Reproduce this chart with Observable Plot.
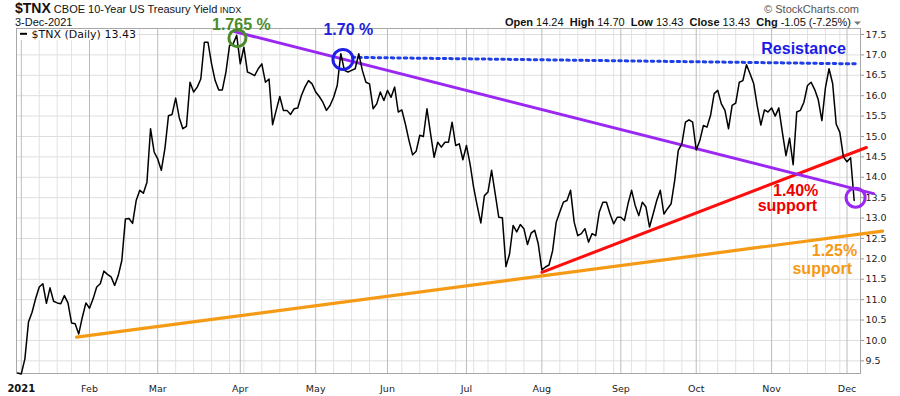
<!DOCTYPE html>
<html><head><meta charset="utf-8">
<script src="https://cdn.jsdelivr.net/npm/d3@7"></script>
<script src="https://cdn.jsdelivr.net/npm/@observablehq/plot@0.6"></script>
<style>
body{margin:0;background:#fff;}
#chart{width:900px;height:396px;}
</style></head><body><div id="chart"></div>
<script>
// ---- $TNX daily closes (x10), one value per trading day, index -1 = 31-Dec-2020 ----
const firstIndex = -1;
const dec2020 = [9.20];
const jan = [9.18,9.55,10.45,10.69,11.03,11.31,11.39,10.91,11.29,10.96,10.92,10.90,11.10,10.92,10.43,10.41,10.16,10.57,10.92];
const feb = [10.79,11.02,11.31,11.39,11.70,11.62,11.56,11.35,11.59,11.96,12.98,12.99,12.87,13.43,13.68,13.61,13.88,15.19,14.62];
const mar = [14.45,14.17,14.70,15.51,15.54,15.94,15.46,15.19,15.25,16.33,16.09,16.21,16.41,17.31,17.31,16.78,16.37,16.14,16.14,16.58,17.23,17.27,17.48];
const apr = [16.78,17.19,16.58,16.54,16.49,16.66,16.78,16.33,16.41,15.29,15.64,15.98,15.64,15.64,15.54,15.68,15.70,16.00,16.21,16.37,16.29];
const may = [16.09,15.98,15.84,15.64,15.76,15.96,16.25,17.03,16.62,16.58,16.62,16.66,17.03,16.62,16.33,16.29,15.68,15.80,16.09,15.88];
const jun = [16.13,15.96,16.21,15.60,15.65,15.30,14.90,14.55,14.64,15.03,15.00,15.68,15.07,14.49,14.86,14.74,14.86,14.86,15.35,14.78,14.82,14.43];
const jul = [14.78,14.33,13.75,13.30,12.88,13.55,13.64,14.17,13.60,13.02,13.01,11.81,12.12,12.82,12.66,12.84,12.74,12.35,12.63,12.70,12.37];
const aug = [11.73,11.80,11.85,12.20,12.90,13.15,13.39,13.43,13.68,12.90,12.57,12.62,12.74,12.41,12.62,12.57,13.15,13.39,13.39,13.10,12.86,13.02];
const sep = [13.02,12.94,13.35,13.68,13.31,13.06,13.39,13.27,12.78,13.10,13.43,13.68,13.10,13.23,13.35,13.92,14.66,14.82,15.35,15.41,15.35];
const oct = [14.67,14.90,15.27,15.23,15.52,16.05,16.13,15.80,15.64,15.19,15.76,15.82,16.33,16.37,16.76,16.54,16.30,15.75,15.28,15.65,15.60];
const nov = [15.70,15.50,15.70,15.10,14.53,14.96,14.31,15.60,15.64,15.84,16.25,16.33,16.15,15.90,15.39,16.20,16.66,16.30,15.30,15.10,14.50];
const dec = [14.38,14.48,13.43];

// ---- axis ticks (trading-day index of the first session of each month / week) ----
const monthTicks  = [0,19,38,61,82,102,124,145,167,188,209,230];
const monthLabels = ["2021","Feb","Mar","Apr","May","Jun","Jul","Aug","Sep","Oct","Nov","Dec"];
const weekTicks = [5,10,14,24,29,33,43,48,53,58,62,67,72,77,87,92,97,106,111,116,121,126,130,135,140,150,155,160,165,170,174,179,184,189,194,199,204,214,219,224,228];
const yTicks = [9.5,10,10.5,11,11.5,12,12.5,13,13.5,14,14.5,15,15.5,16,16.5,17,17.5];

// ---- annotations (trading-day index, yield x10) ----
const fallingTrend = [{i:59.4, v:17.57},{i:237.4, v:13.60}];
const risingSupport = [{i:145.0, v:11.67},{i:235.4, v:14.73}];
const longSupport = [{i:15.4, v:10.08},{i:239.9, v:12.68}];
const resistance = [{i:92.2, v:16.94},{i:233.2, v:16.78}];
const circles = [
  {i:60.2, v:17.41, r:8.5, color:"#4b8b2b"},
  {i:89.6, v:16.89, r:10, color:"#1f1fe6"},
  {i:232.4, v:13.50, r:9.5, color:"#9b27f2"}
];
const labels = [
  {i:61.3, v:17.62, text:"1.765 %", color:"#4b8b2b"},
  {i:91.1, v:17.48, text:"1.70 %", color:"#2121d9"},
  {i:217.9, v:17.02, text:"Resistance", color:"#1a1ae6"},
  {i:215.7, v:13.55, text:"1.40%", color:"#ee0000"},
  {i:213.4, v:13.17, text:"support", color:"#ee0000"},
  {i:226.5, v:12.08, text:"1.25%", color:"#f59a14"},
  {i:223.1, v:11.63, text:"support", color:"#f59a14"}
];

const closes = [].concat(dec2020, jan, feb, mar, apr, may, jun, jul, aug, sep, oct, nov, dec);
const price = closes.map((v, k) => ({i: k + firstIndex, v}));
const months = monthTicks.map((t, k) => ({t, label: monthLabels[k]}));

const FONT = "DejaVu Sans, Verdana, sans-serif";
const ARIAL = "Liberation Sans, Arial, sans-serif";

const chart = Plot.plot({
  width: 900, height: 396,
  marginTop: 28, marginBottom: 23, marginLeft: 16, marginRight: 40,
  style: {fontFamily: FONT, fontSize: "9.5px", color: "#222", background: "#fff", overflow: "visible"},
  x: {domain: [-1.337, 233.76], axis: null},
  y: {domain: [9.19, 17.647], axis: null},
  marks: [
    Plot.ruleX(weekTicks, {x: d => d, stroke: "#e2e2e2", strokeWidth: 1}),
    Plot.ruleY(yTicks, {y: d => d, stroke: "#dedede", strokeWidth: 1}),
    Plot.ruleX(monthTicks, {x: d => d, stroke: "#bcbcbc", strokeWidth: 1}),
    Plot.frame({stroke: "#a8a8a8"}),
    Plot.axisY(yTicks, {anchor: "right", tickSize: 3, tickPadding: 2, tickFormat: ".1f", label: null, fontSize: 9.5, fill: "#222", stroke: "#999"}),
    Plot.text(months.slice(1), {x: "t", frameAnchor: "bottom", dy: 18, lineAnchor: "bottom", text: "label", fontSize: 9.5, fill: "#222"}),
    Plot.text(months.slice(0, 1), {x: "t", frameAnchor: "bottom", dy: 18, lineAnchor: "bottom", text: "label", fontSize: 10, fontWeight: "bold", fill: "#111"}),
    Plot.line(longSupport, {x: "i", y: "v", stroke: "#f59a14", strokeWidth: 3.2}),
    Plot.line(risingSupport, {x: "i", y: "v", stroke: "#ff0d0d", strokeWidth: 3}),
    Plot.line(fallingTrend, {x: "i", y: "v", stroke: "#9b27f2", strokeWidth: 3}),
    Plot.line(resistance, {x: "i", y: "v", stroke: "#1f3fe6", strokeWidth: 3, strokeDasharray: "2.5,4"}),
    Plot.line(price, {x: "i", y: "v", stroke: "#000", strokeWidth: 1.5}),
    Plot.dot(circles, {x: "i", y: "v", r: "r", stroke: "color", strokeWidth: 3, fill: "none"}),
    Plot.text(labels, {x: "i", y: "v", text: "text", fill: "color", fontSize: 16, fontWeight: "bold", fontFamily: ARIAL, lineAnchor: "bottom"})
  ],
  r: {type: "identity"}
});
document.getElementById("chart").appendChild(chart);

// ---- header & legend (text) ----
const svg = d3.select(chart);
const t1 = svg.append("text").attr("x", 15).attr("y", 13).attr("text-anchor", "start").attr("font-family", ARIAL).attr("fill", "#111");
t1.append("tspan").attr("font-size", 14).attr("font-weight", "bold").text("$TNX");
t1.append("tspan").attr("font-size", 11).text(" CBOE 10-Year US Treasury Yield");
t1.append("tspan").attr("font-size", 9).text(" INDX");
svg.append("text").attr("x", 15).attr("y", 26).attr("text-anchor", "start").attr("font-family", ARIAL).attr("font-size", 11).attr("fill", "#111").text("3-Dec-2021");

const ohlc = [["Open","14.24"],["High","14.70"],["Low","13.43"],["Close","13.43"],["Chg","-1.05 (-7.25%)"]];
const t2 = svg.append("text").attr("x", 851).attr("y", 26).attr("text-anchor", "end").attr("font-family", ARIAL).attr("font-size", 11).attr("fill", "#111");
ohlc.forEach(([k, v], n) => {
  t2.append("tspan").attr("font-weight", "bold").text((n ? "  " : "") + k);
  t2.append("tspan").text(" " + v);
});
svg.append("path").attr("d", "M854,21.5 L861,21.5 L857.5,25 Z").attr("fill", "#777");
svg.append("text").attr("x", 859).attr("y", 13).attr("text-anchor", "end").attr("font-family", ARIAL).attr("font-size", 11).attr("fill", "#555").text("\u00A9 StockCharts.com");

svg.append("rect").attr("x", 17).attr("y", 29).attr("width", 120).attr("height", 11).attr("fill", "#fff");
svg.append("line").attr("x1", 20).attr("x2", 27).attr("y1", 33.8).attr("y2", 33.8).attr("stroke", "#000").attr("stroke-width", 2);
svg.append("text").attr("x", 31.5).attr("y", 37.5).attr("text-anchor", "start").attr("font-family", FONT).attr("font-size", 11).attr("fill", "#111").text("$TNX (Daily) 13.43");
</script>
</body></html>
